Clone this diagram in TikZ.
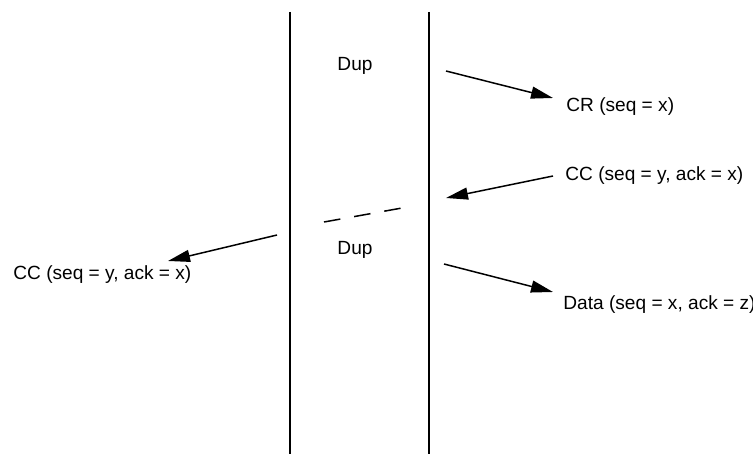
\documentclass[tikz,border=0pt]{standalone}
\usepackage{fontspec}
\setmainfont{Liberation Sans}
\usetikzlibrary{arrows.meta}
\tikzset{
  lifeline/.style={line width=1pt},
  msg/.style={line width=0.75pt, -{Triangle[length=11pt,width=6pt]}},
  lost/.style={line width=0.75pt, dash pattern=on 8.3pt off 7pt},
  lbl/.style={inner sep=0pt, anchor=west, font=\fontsize{9.55}{11}\selectfont},
  dup/.style={inner sep=0pt, font=\fontsize{9.55}{11}\selectfont},
}

\begin{document}
\begin{tikzpicture}[x=0.5pt, y=-0.5pt]
  \useasboundingbox (0,0) rectangle (753,454);

  % Lifelines
  \coordinate (ltop) at (290,12);
  \coordinate (lbot) at (290,454);
  \coordinate (rtop) at (429,12);
  \coordinate (rbot) at (429,454);
  \draw[lifeline] (ltop) -- (lbot);
  \draw[lifeline] (rtop) -- (rbot);

  % Labels
  \node[dup] (dup1) at (355,66) {Dup};
  \node[dup] (dup2) at (355,250) {Dup};
  \node[lbl] (cr) at (566,107) {CR (seq = x)};
  \node[lbl] (ccr) at (565,176) {CC (seq = y, ack = x)};
  \node[lbl] (ccl) at (13,275) {CC (seq = y, ack = x)};
  \node[lbl] (data) at (563,305) {Data (seq = x, ack = z)};

  % Message ends
  \coordinate (cr s) at (446,71);
  \coordinate (cr e) at (553,98);
  \coordinate (ccr s) at (553,176);
  \coordinate (ccr e) at (446,198);
  \coordinate (ccl s) at (277,235);
  \coordinate (ccl e) at (168,261);
  \coordinate (data s) at (444,264);
  \coordinate (data e) at (553,292);
  \coordinate (lost s) at (324,222);
  \coordinate (lost e) at (402,208);

  % Messages
  \draw[msg] (cr s) -- (cr e);
  \draw[msg] (ccr s) -- (ccr e);
  \draw[lost] (lost s) -- (lost e);
  \draw[msg] (ccl s) -- (ccl e);
  \draw[msg] (data s) -- (data e);
\end{tikzpicture}
\end{document}
